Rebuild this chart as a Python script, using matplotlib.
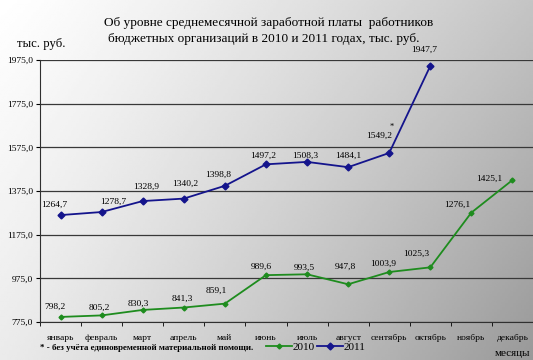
import numpy as np
import matplotlib
matplotlib.use('Agg')
import matplotlib.pyplot as plt
from matplotlib.lines import Line2D

months = ['январь', 'февраль', 'март', 'апрель', 'май', 'июнь', 'июль',
          'август', 'сентябрь', 'октябрь', 'ноябрь', 'декабрь']
y2010 = [798.2, 805.2, 830.3, 841.3, 859.1, 989.6, 993.5, 947.8, 1003.9, 1025.3, 1276.1, 1425.1]
y2011 = [1264.7, 1278.7, 1328.9, 1340.2, 1398.8, 1497.2, 1508.3, 1484.1, 1549.2, 1947.7]
yticks = [775, 975, 1175, 1375, 1575, 1775, 1975]

# label offsets in pixels (dx, dy)
off2010 = [(-6, 10), (-2, 8), (-4, 6), (-1, 9), (-9, 13), (-5, 8),
           (-3, 6), (-3, 17), (-6, 8), (-14, 14), (-14, 8), (-23, 1)]
off2011 = [(-6, 10), (12, 10), (3, 14), (1, 15), (-7, 11), (-3, 9),
           (-2, 6), (0, 11), (-10, 17), (-6, 16)]

plt.rcParams['font.family'] = ['Liberation Serif', 'DejaVu Serif']

W, H = 533, 360
fig = plt.figure(figsize=(W / 100, H / 100), dpi=100)

# background gradient: white top-left to grey bottom-right
bg = fig.add_axes([0, 0, 1, 1], zorder=-10)
gx, gy = np.meshgrid(np.linspace(0, 1, 200), np.linspace(0, 1, 200))
g = 1.0 - 0.23 * gx ** 1.2 - 0.08 * gy - 0.09 * gx * gy
bg.imshow(g, cmap='gray', vmin=0, vmax=1, aspect='auto', extent=[0, 1, 0, 1], origin='upper')
bg.axis('off')

ax = fig.add_axes([40 / W, 1 - 322 / H, 493 / W, 262 / H])
ax.patch.set_alpha(0)
x = np.arange(len(months))
ax.set_xlim(-0.5, 11.5)
ax.set_ylim(775, 1975)
ax.set_yticks(yticks)
ax.set_yticklabels([f'{v:.1f}'.replace('.', ',') for v in yticks], fontsize=6.8)
ax.set_xticks(x)
ax.set_xticklabels(months, fontsize=6.8)
ax.set_xticks(np.arange(-0.5, 12, 1), minor=True)
ax.tick_params(axis='x', which='major', length=0, pad=9)
ax.tick_params(axis='x', which='minor', length=3, direction='out')
ax.tick_params(axis='y', length=3, direction='out', pad=2)
ax.grid(axis='y', color='#383838', linewidth=0.9)
for s in ['top', 'right']:
    ax.spines[s].set_visible(False)
for s in ['left', 'bottom']:
    ax.spines[s].set_color('#303030')

ax.plot(x, y2010, color='#1e8c1e', marker='D', markersize=2.5, linewidth=1.3)
ax.plot(x[:len(y2011)], y2011, color='#14148c', marker='D', markersize=3.5, linewidth=1.3)

for i, v in enumerate(y2010):
    ax.annotate(f'{v:.1f}'.replace('.', ','), (x[i], v), xytext=off2010[i],
                textcoords='offset pixels', ha='center', va='center', fontsize=6.8)
for i, v in enumerate(y2011):
    ax.annotate(f'{v:.1f}'.replace('.', ','), (x[i], v), xytext=off2011[i],
                textcoords='offset pixels', ha='center', va='center', fontsize=6.8)
ax.annotate('*', (x[8], y2011[8]), xytext=(3, 26), textcoords='offset pixels',
            ha='center', va='center', fontsize=6)

fig.text(269 / W, 1 - 23 / H, 'Об уровне среднемесячной заработной платы  работников',
         ha='center', va='center', fontsize=9.5)
fig.text(264 / W, 1 - 39 / H, 'бюджетных организаций в 2010 и 2011 годах, тыс. руб.',
         ha='center', va='center', fontsize=9.5)
fig.text(41 / W, 1 - 44 / H, 'тыс. руб.', ha='center', va='center', fontsize=9.2)
fig.text(40 / W, 1 - 348 / H, '* - без учёта единовременной материальной помощи.',
         ha='left', va='center', fontsize=6.4, fontweight='bold')
fig.text(530 / W, 1 - 353 / H, 'месяцы', ha='right', va='center', fontsize=8)

handles = [Line2D([], [], color='#1e8c1e', marker='D', markersize=2.5, linewidth=1.3),
           Line2D([], [], color='#14148c', marker='D', markersize=3.5, linewidth=1.3)]
fig.legend(handles, ['2010', '2011'], loc='center', bbox_to_anchor=(316 / W, 1 - 347 / H),
           ncol=2, frameon=False, fontsize=8, handlelength=2.3, columnspacing=0.2,
           handletextpad=0.1, borderpad=0)

fig.savefig('out.png', dpi=100)
